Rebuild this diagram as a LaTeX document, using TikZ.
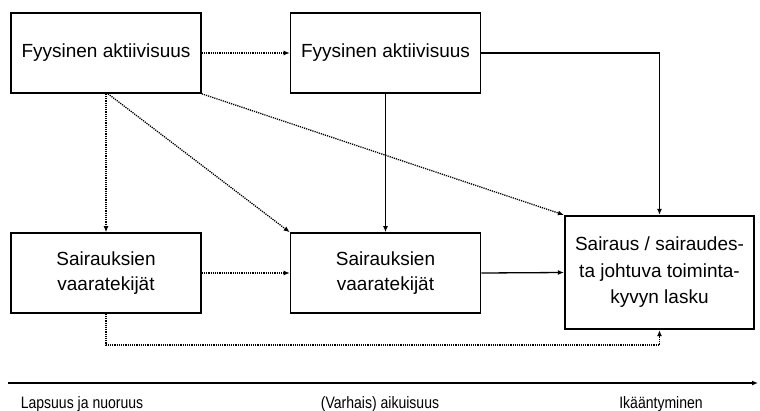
\documentclass[tikz,border=0pt]{standalone}
\usepackage{fontspec}
\setmainfont{Liberation Sans}
\usetikzlibrary{arrows.meta}
\begin{document}
\begin{tikzpicture}[x=1pt,y=-1pt,
  box/.style={draw, line width=1.6pt, minimum width=190pt, minimum height=80pt, align=center, inner sep=2pt, font=\fontsize{19}{25}\selectfont},
  tip/.style={-{Latex[length=6pt,width=5pt]}},
  dotline/.style={tip, line width=1.3pt, dash pattern=on 1.2pt off 1pt},
  solidline/.style={tip, line width=1.3pt},
  lbl/.style={font=\fontsize{16.5}{18}\selectfont, anchor=base}
]
\useasboundingbox (0,0) rectangle (760,410);
\fill[white] (0,0) rectangle (760,410);
\node[box] (A) at (106,53) {Fyysinen aktiivisuus};
\node[box] (B) at (385.5,53) {Fyysinen aktiivisuus};
\node[box] (C) at (106,273) {Sairauksien\\vaaratekijät};
\node[box] (D) at (385.5,273) {Sairauksien\\vaaratekijät};
\node[box, line width=2.2pt, minimum width=189pt, minimum height=113pt, font=\fontsize{19}{26.5}\selectfont] (E) at (659.5,272.5) {Sairaus / sairaudes-\\ta johtuva toiminta-\\kyvyn lasku};
\draw[dotline] (A.east) -- (B.west);
\draw[dotline] (A.south) -- (C.north);
\draw[dotline] ([xshift=2pt]A.south) -- (D.north west);
\draw[dotline] (A.south east) -- (E.north west);
\draw[solidline] (B.east) -| (E.north);
\draw[solidline] (B.south) -- (D.north);
\draw[dotline] (C.east) -- (D.west);
\draw[solidline] (D.east) -- (E.west);
\coordinate (cb) at (106,345);
\draw[dotline] (C.south) -- (cb) -| (E.south);
\coordinate (t0) at (8,383);
\coordinate (t1) at (758,383);
\draw[solidline, line width=1.8pt] (t0) -- (t1);
\node[lbl] (l1) at (82,408) {\scalebox{0.85}[1]{Lapsuus ja nuoruus}};
\node[lbl] (l2) at (380,408) {\scalebox{0.85}[1]{(Varhais) aikuisuus}};
\node[lbl] (l3) at (661,408) {\scalebox{0.85}[1]{Ikääntyminen}};
\end{tikzpicture}
\end{document}
